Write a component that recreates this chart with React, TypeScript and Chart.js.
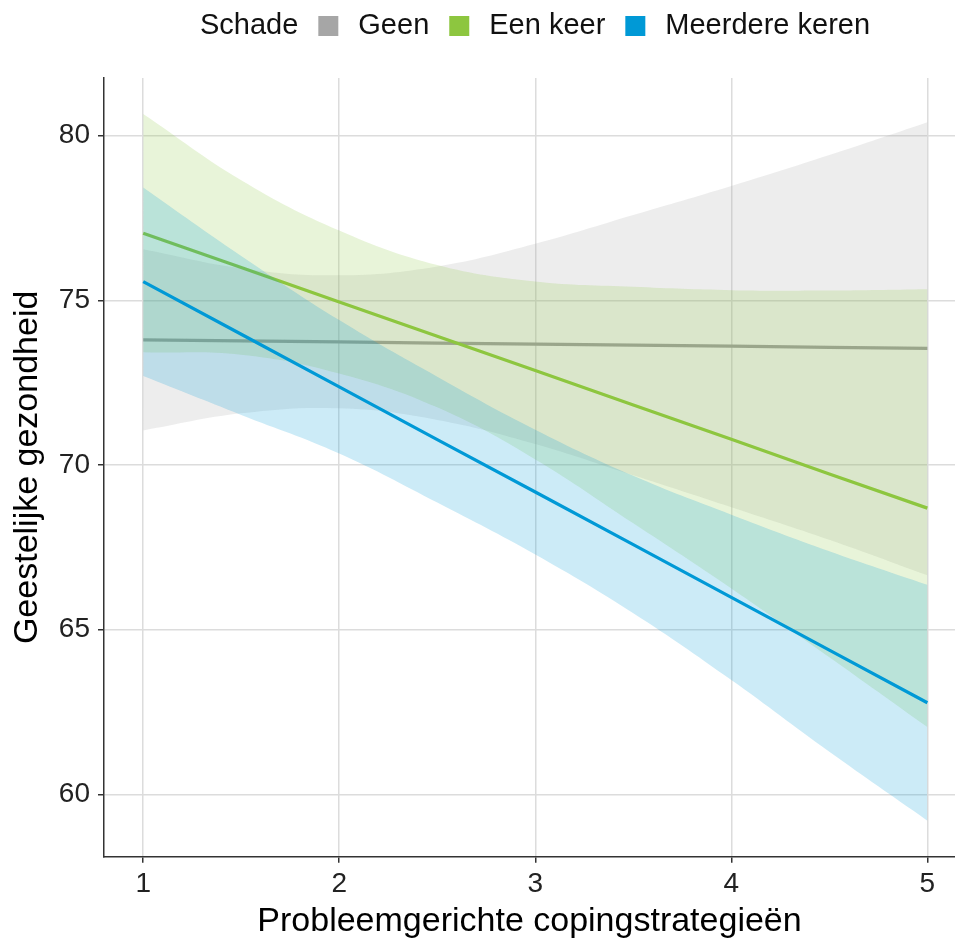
import React, { useEffect, useRef } from "react";
import { Chart, registerables } from "chart.js";

Chart.register(...registerables);

// ---- data ----
const xValues = [1, 1.5, 2, 2.5, 3, 3.5, 4, 4.5, 5];

const geenFit = [73.8, 73.77, 73.74, 73.7, 73.67, 73.64, 73.61, 73.57, 73.54];
const geenUpper = [76.55, 75.97, 75.76, 76.03, 76.72, 77.59, 78.47, 79.41, 80.41];
const geenLower = [71.05, 71.57, 71.72, 71.37, 70.64, 69.69, 68.72, 67.73, 66.65];

const eenFit = [77.04, 76.0, 74.95, 73.91, 72.87, 71.82, 70.78, 69.73, 68.69];
const eenUpper = [80.66, 78.65, 77.12, 76.07, 75.57, 75.41, 75.31, 75.3, 75.34];
const eenLower = [73.42, 73.35, 72.78, 71.75, 70.17, 68.23, 66.25, 64.16, 62.04];

const meerFit = [75.57, 73.97, 72.37, 70.77, 69.18, 67.58, 65.98, 64.38, 62.78];
const meerUpper = [78.43, 76.35, 74.4, 72.68, 71.07, 69.67, 68.49, 67.38, 66.36];
const meerLower = [72.7, 71.52, 70.35, 68.86, 67.28, 65.5, 63.47, 61.29, 59.2];

const legendTitle = "Schade";
const seriesNames = ["Geen", "Een keer", "Meerdere keren"];
const seriesColors = ["#A6A6A6", "#8DC63F", "#0099D6"];
const xTicks = [1, 2, 3, 4, 5];
const yTicks = [60, 65, 70, 75, 80];
const xTitle = "Probleemgerichte copingstrategieën";
const yTitle = "Geestelijke gezondheid";

const FONT = '"Liberation Sans", Arial, Helvetica, sans-serif';

function pts(ys: number[]) {
  return xValues.map((x, i) => ({ x, y: ys[i] }));
}

function rgba(hex: string, a: number) {
  const h = hex.replace("#", "");
  const r = parseInt(h.slice(0, 2), 16);
  const g = parseInt(h.slice(2, 4), 16);
  const b = parseInt(h.slice(4, 6), 16);
  return `rgba(${r},${g},${b},${a})`;
}

const legendPlugin = {
  id: "schadeLegend",
  afterDraw(chart: any) {
    const ctx = chart.ctx as CanvasRenderingContext2D;
    ctx.save();
    ctx.font = `29px ${FONT}`;
    ctx.textBaseline = "middle";
    ctx.textAlign = "left";
    const box = 20;
    const gap = 20;
    const cy = 26;
    const titleW = ctx.measureText(legendTitle).width;
    const widths = seriesNames.map((n) => ctx.measureText(n).width);
    const total =
      titleW + seriesNames.length * (gap + box + gap) + widths.reduce((a, b) => a + b, 0);
    let x = 535 - total / 2;
    ctx.fillStyle = "#111";
    ctx.fillText(legendTitle, x, cy);
    x += titleW + gap;
    seriesNames.forEach((n, i) => {
      ctx.fillStyle = seriesColors[i];
      ctx.fillRect(x, cy - box / 2, box, box);
      x += box + gap;
      ctx.fillStyle = "#111";
      ctx.fillText(n, x, cy);
      x += widths[i] + gap;
    });
    ctx.restore();
  },
};

function band(ys: number[], color: string, order: number, fill: any) {
  return {
    data: pts(ys),
    borderWidth: 0,
    borderColor: "rgba(0,0,0,0)",
    backgroundColor: rgba(color, 0.2),
    fill,
    order,
    pointRadius: 0,
    tension: 0.4,
  };
}

function fitLine(label: string, ys: number[], color: string, order: number) {
  return {
    label,
    data: pts(ys),
    borderWidth: 3.2,
    borderColor: color,
    backgroundColor: color,
    fill: false,
    order,
    pointRadius: 0,
    tension: 0,
  };
}

export default function App() {
  const ref = useRef<HTMLCanvasElement | null>(null);

  useEffect(() => {
    if (!ref.current) return;
    const [gray, green, blue] = seriesColors;
    const datasets: any[] = [
      fitLine(seriesNames[2], meerFit, blue, 1),
      band(meerUpper, blue, 2, "+1"),
      band(meerLower, blue, 2, false),
      fitLine(seriesNames[1], eenFit, green, 3),
      band(eenUpper, green, 4, "+1"),
      band(eenLower, green, 4, false),
      fitLine(seriesNames[0], geenFit, "#9E9E9E", 5),
      band(geenUpper, gray, 6, "+1"),
      band(geenLower, gray, 6, false),
    ];

    const chart = new Chart(ref.current, {
      type: "line",
      data: { datasets },
      options: {
        animation: false,
        responsive: false,
        devicePixelRatio: 1,
        events: [],
        layout: { padding: { top: 78, left: 0, right: 0, bottom: 0 } },
        plugins: {
          legend: { display: false },
          tooltip: { enabled: false },
        },
        scales: {
          x: {
            type: "linear",
            min: 0.8,
            max: 5.141,
            afterBuildTicks: (s: any) => {
              s.ticks = xTicks.map((v) => ({ value: v }));
            },
            afterFit: (s: any) => {
              s.height = 85.3;
            },
            ticks: {
              font: { size: 28, family: FONT },
              color: "#222",
              padding: 5,
              maxRotation: 0,
              callback: (v: any) => String(v),
            },
            grid: {
              color: "#DCDCDC",
              lineWidth: 1.5,
              tickColor: "#333",
              tickLength: 6,
              tickWidth: 1.5,
            },
            border: { display: true, color: "#333", width: 1.5 },
            title: {
              display: true,
              text: xTitle,
              font: { size: 34, family: FONT },
              color: "#000",
              padding: { top: 0, bottom: 0 },
            },
          },
          y: {
            type: "linear",
            min: 58.105,
            max: 81.752,
            afterBuildTicks: (s: any) => {
              s.ticks = yTicks.map((v) => ({ value: v }));
            },
            afterFit: (s: any) => {
              s.width = 104;
            },
            ticks: {
              font: { size: 28, family: FONT },
              color: "#222",
              padding: 8,
              callback: (v: any) => String(v),
            },
            grid: {
              color: "#DCDCDC",
              lineWidth: 1.5,
              tickColor: "#333",
              tickLength: 6,
              tickWidth: 1.5,
            },
            border: { display: true, color: "#333", width: 1.5 },
            title: {
              display: true,
              text: yTitle,
              font: { size: 34, family: FONT },
              color: "#000",
              padding: { top: 7, bottom: 0 },
            },
          },
        },
      } as any,
      plugins: [legendPlugin],
    });

    return () => {
      chart.destroy();
    };
  }, []);

  return (
    <div style={{ position: "absolute", left: 0, top: 0, width: 955, height: 942, background: "#fff" }}>
      <canvas ref={ref} width={955} height={942} style={{ display: "block", width: 955, height: 942 }} />
    </div>
  );
}
